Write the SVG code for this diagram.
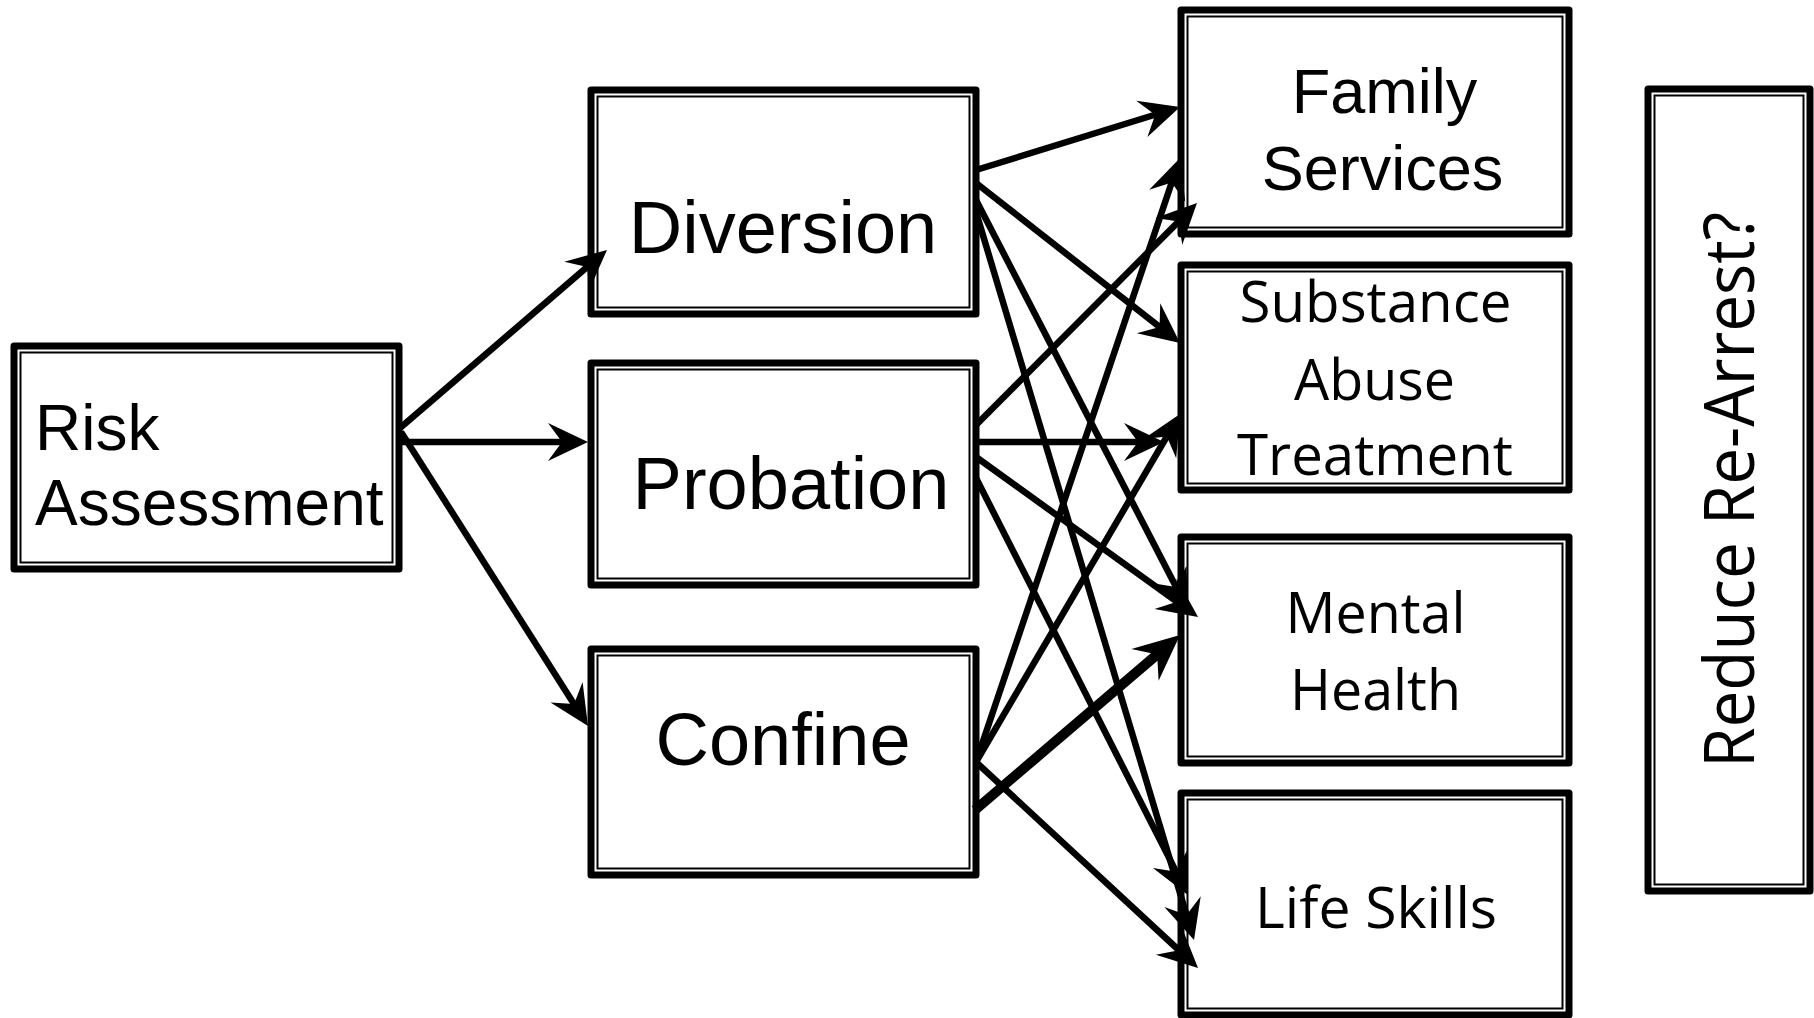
<svg xmlns="http://www.w3.org/2000/svg" width="1814" height="1018" viewBox="0 0 1814 1018">
<style>
.o{fill:#fff;stroke:#000;stroke-width:7;stroke-linejoin:round}
.i{fill:none;stroke:#000;stroke-width:2}
.a{font-family:"Liberation Sans",Arial,sans-serif;fill:#000}
.c{font-family:"Open Sans","Noto Sans",sans-serif;fill:#000}
.l{stroke:#000;stroke-width:6.5;fill:none;marker-end:url(#ah)}
.lb{stroke:#000;stroke-width:10;fill:none;marker-end:url(#ahb)}
</style>
<defs>
<marker id="ah" markerUnits="userSpaceOnUse" viewBox="-40 -25 70 50" markerWidth="70" markerHeight="50" refX="0" refY="0" orient="auto">
<path d="M22,0 L-18,-19 L-4,0 L-18,19 Z" fill="#000"/>
</marker>
<marker id="ahb" markerUnits="userSpaceOnUse" viewBox="-40 -30 80 60" markerWidth="80" markerHeight="60" refX="0" refY="0" orient="auto">
<path d="M26,0 L-20,-21 L-4,0 L-20,21 Z" fill="#000"/>
</marker>
</defs>
<rect width="1814" height="1018" fill="#fff"/>

<g id="risk">
<rect class="o" x="14" y="346" width="385" height="223"/>
<rect class="i" x="20.5" y="352.5" width="372" height="210"/>
<text class="a" font-size="64" x="35" y="450">Risk</text>
<text class="a" font-size="64" x="35" y="525">Assessment</text>
</g>
<g id="diversion">
<rect class="o" x="591" y="90" width="385" height="224"/>
<rect class="i" x="597.5" y="96.5" width="372" height="211"/>
<text class="a" font-size="74" x="783" y="253" text-anchor="middle">Diversion</text>
</g>
<g id="probation">
<rect class="o" x="591" y="363" width="385" height="222"/>
<rect class="i" x="597.5" y="369.5" width="372" height="209"/>
<text class="a" font-size="74" x="791" y="509" text-anchor="middle">Probation</text>
</g>
<g id="confine">
<rect class="o" x="591" y="649" width="385" height="226"/>
<rect class="i" x="597.5" y="655.5" width="372" height="213"/>
<text class="a" font-size="74" x="783" y="765" text-anchor="middle">Confine</text>
</g>
<g id="family">
<rect class="o" x="1181" y="10" width="388" height="224"/>
<rect class="i" x="1187.5" y="16.5" width="375" height="211"/>
<text class="a" font-size="63" x="1384.5" y="113" text-anchor="middle">Family</text>
<text class="a" font-size="63" x="1382.5" y="190" text-anchor="middle">Services</text>
</g>
<g id="substance">
<rect class="o" x="1181" y="265" width="388" height="225"/>
<rect class="i" x="1187.5" y="271.5" width="375" height="212"/>
<text class="c" font-size="56" x="1375.5" y="322" text-anchor="middle" textLength="272" lengthAdjust="spacingAndGlyphs">Substance</text>
<text class="c" font-size="56" x="1374.5" y="400" text-anchor="middle" textLength="161" lengthAdjust="spacingAndGlyphs">Abuse</text>
<text class="c" font-size="56" x="1375" y="475" text-anchor="middle" textLength="276" lengthAdjust="spacingAndGlyphs">Treatment</text>
</g>
<g id="mental">
<rect class="o" x="1181" y="537" width="388" height="226"/>
<rect class="i" x="1187.5" y="543.5" width="375" height="213"/>
<text class="c" font-size="56" x="1375.5" y="633" text-anchor="middle" textLength="180" lengthAdjust="spacingAndGlyphs">Mental</text>
<text class="c" font-size="56" x="1375.5" y="710" text-anchor="middle" textLength="171" lengthAdjust="spacingAndGlyphs">Health</text>
</g>
<g id="lifeskills">
<rect class="o" x="1181" y="793" width="388" height="222"/>
<rect class="i" x="1187.5" y="799.5" width="375" height="209"/>
<text class="c" font-size="56" x="1376" y="928" text-anchor="middle" textLength="242" lengthAdjust="spacingAndGlyphs">Life Skills</text>
</g>
<g id="reduce">
<rect class="o" x="1648" y="89" width="162" height="802"/>
<rect class="i" x="1654.5" y="95.5" width="149" height="789"/>
<text class="c" font-size="70" transform="translate(1754,490) rotate(-90)" x="0" y="0" text-anchor="middle" textLength="556" lengthAdjust="spacingAndGlyphs">Reduce Re-Arrest?</text>
</g>

<g id="connectors">
<line class="l" x1="400" y1="428" x2="590.3" y2="264.3"/>
<line class="l" x1="400" y1="442" x2="566" y2="442"/>
<line class="l" x1="401" y1="432" x2="576.2" y2="707.4"/>

<line class="l" x1="976" y1="170" x2="1159" y2="113.5"/>
<line class="l" x1="976" y1="183" x2="1162.7" y2="329.4"/>
<line class="l" x1="976" y1="200" x2="1177.9" y2="590.5"/>
<line class="l" x1="976" y1="212" x2="1187.7" y2="918.9"/>

<line class="l" x1="976" y1="425" x2="1181.5" y2="218.6"/>
<line class="l" x1="976" y1="442" x2="1142" y2="442"/>
<line class="l" x1="976" y1="457" x2="1180.2" y2="604.1"/>
<line class="l" x1="976" y1="478" x2="1178" y2="875.4"/>

<line class="l" x1="976" y1="762" x2="1173" y2="178.8"/>
<line class="l" x1="976" y1="762" x2="1168.9" y2="433"/>
<line class="lb" x1="975" y1="810" x2="1160.2" y2="651.9"/>
<line class="l" x1="976" y1="762" x2="1181.9" y2="953"/>
</g>
</svg>
